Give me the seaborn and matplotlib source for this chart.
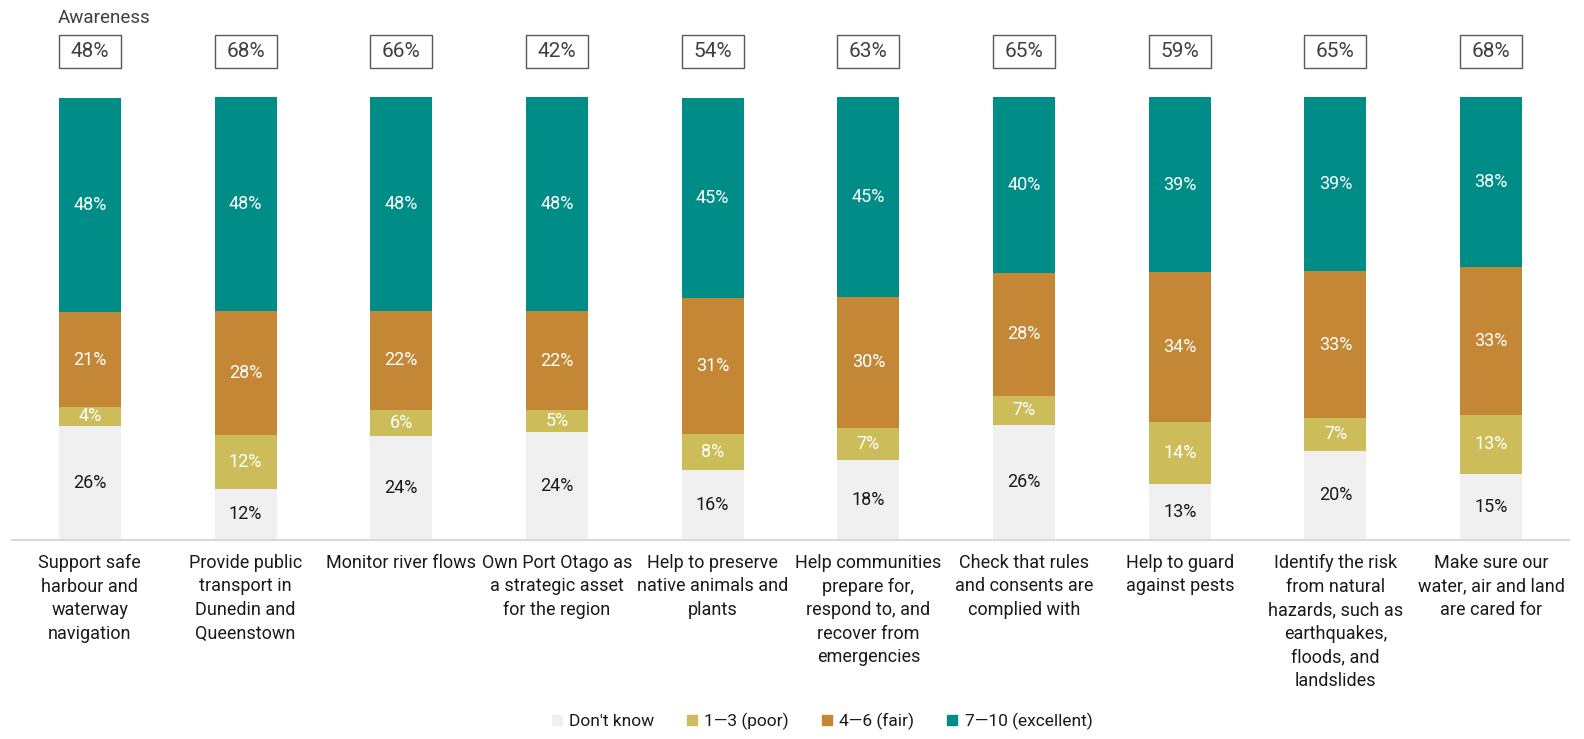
import matplotlib
matplotlib.use("Agg")
import matplotlib.pyplot as plt
from matplotlib.patches import Rectangle
from matplotlib.lines import Line2D
import seaborn as sns
import pandas as pd
import numpy as np

# categories (wrapped the same way as the source)
services = [
    "Support safe\nharbour and\nwaterway\nnavigation",
    "Provide public\ntransport in\nDunedin and\nQueenstown",
    "Monitor river flows",
    "Own Port Otago as\na strategic asset\nfor the region",
    "Help to preserve\nnative animals and\nplants",
    "Help communities\nprepare for,\nrespond to, and\nrecover from\nemergencies",
    "Check that rules\nand consents are\ncomplied with",
    "Help to guard\nagainst pests",
    "Identify the risk\nfrom natural\nhazards, such as\nearthquakes,\nfloods, and\nlandslides",
    "Make sure our\nwater, air and land\nare cared for",
]

# rating shares (%)
dont_know = [25.8, 11.6, 23.6, 24.4, 15.8, 18.1, 26.0, 12.7, 20.2, 15.0]
poor = [4.2, 12.1, 5.8, 4.9, 8.1, 7.2, 6.6, 14.0, 7.4, 13.3]
fair = [21.4, 28.0, 22.4, 22.4, 30.7, 29.7, 27.8, 33.9, 33.1, 33.4]
excellent = [48.4, 48.4, 48.3, 48.3, 45.3, 45.1, 39.7, 39.4, 39.3, 38.4]

awareness = [48, 68, 66, 42, 54, 63, 65, 59, 65, 68]

series_names = ["Don't know", "1\u20143 (poor)", "4\u20146 (fair)", "7\u201410 (excellent)"]
colors = ["#F0F0F0", "#CDBD5A", "#C38735", "#008C87"]
text_colors = ["#1A1A1A", "white", "white", "white"]

df = pd.DataFrame({"service": services, "dk": dont_know, "poor": poor,
                   "fair": fair, "exc": excellent})
layers = ["dk", "poor", "fair", "exc"]
cum = df[layers].cumsum(axis=1)

sns.set_theme(style="white")
plt.rcParams["font.family"] = ["Roboto", "DejaVu Sans"]

W, H = 1584, 739
fig = plt.figure(figsize=(W / 100, H / 100), dpi=100)
ax = fig.add_axes([12 / W, (H - 540) / H, (1569 - 12) / W, (540 - 97.3) / H])

bar_w = 0.398
# draw cumulative totals from the top layer down so they stack
for k in range(len(layers) - 1, -1, -1):
    sns.barplot(x=df["service"], y=cum[layers[k]], color=colors[k],
                saturation=1, width=bar_w, ax=ax, linewidth=0)

x = np.arange(len(services))
for k, col in enumerate(layers):
    bottoms = cum[col] - df[col]
    for i in range(len(services)):
        v = df[col].iloc[i]
        ax.text(x[i], bottoms.iloc[i] + v / 2, f"{v:.0f}%", ha="center", va="center",
                fontsize=13, color=text_colors[k])

ax.set_xlim(-0.5, len(services) - 0.5)
ax.set_ylim(0, 100)
ax.set_yticks([])
ax.set_ylabel("")
ax.set_xlabel("")
for s in ["left", "right", "top"]:
    ax.spines[s].set_visible(False)
ax.spines["bottom"].set_color("#D9D9D9")
ax.spines["bottom"].set_linewidth(1.5)
ax.tick_params(axis="x", length=0, pad=10)
ax.set_xticks(x)
ax.set_xticklabels(services, fontsize=13, color="#1A1A1A", va="top", linespacing=1.4)

# awareness boxes above the bars
ppu = (540 - 97.3) / 100
y_lo = (540 - 68) / ppu
y_hi = (540 - 35) / ppu
for i, a in enumerate(awareness):
    ax.add_patch(Rectangle((x[i] - bar_w / 2, y_lo), bar_w, y_hi - y_lo, fill=False,
                           edgecolor="#595959", linewidth=1.0, clip_on=False))
    ax.text(x[i], (y_lo + y_hi) / 2, f"{a}%", ha="center", va="center",
            fontsize=15, color="#404040", clip_on=False)
fig.text(58 / W, 1 - 18 / H, "Awareness", ha="left", va="center", fontsize=13.5, color="#404040")

handles = [Line2D([0], [0], marker="s", linestyle="", markersize=7,
                  markerfacecolor=c, markeredgecolor=c) for c in colors]
fig.legend(handles, series_names, loc="center", bbox_to_anchor=(821 / W, 1 - 721 / H),
           ncol=4, frameon=False, fontsize=12.5, handlelength=0.8, handletextpad=0.3,
           columnspacing=1.8, labelcolor="#1A1A1A")

fig.savefig("out.png", dpi=100)
